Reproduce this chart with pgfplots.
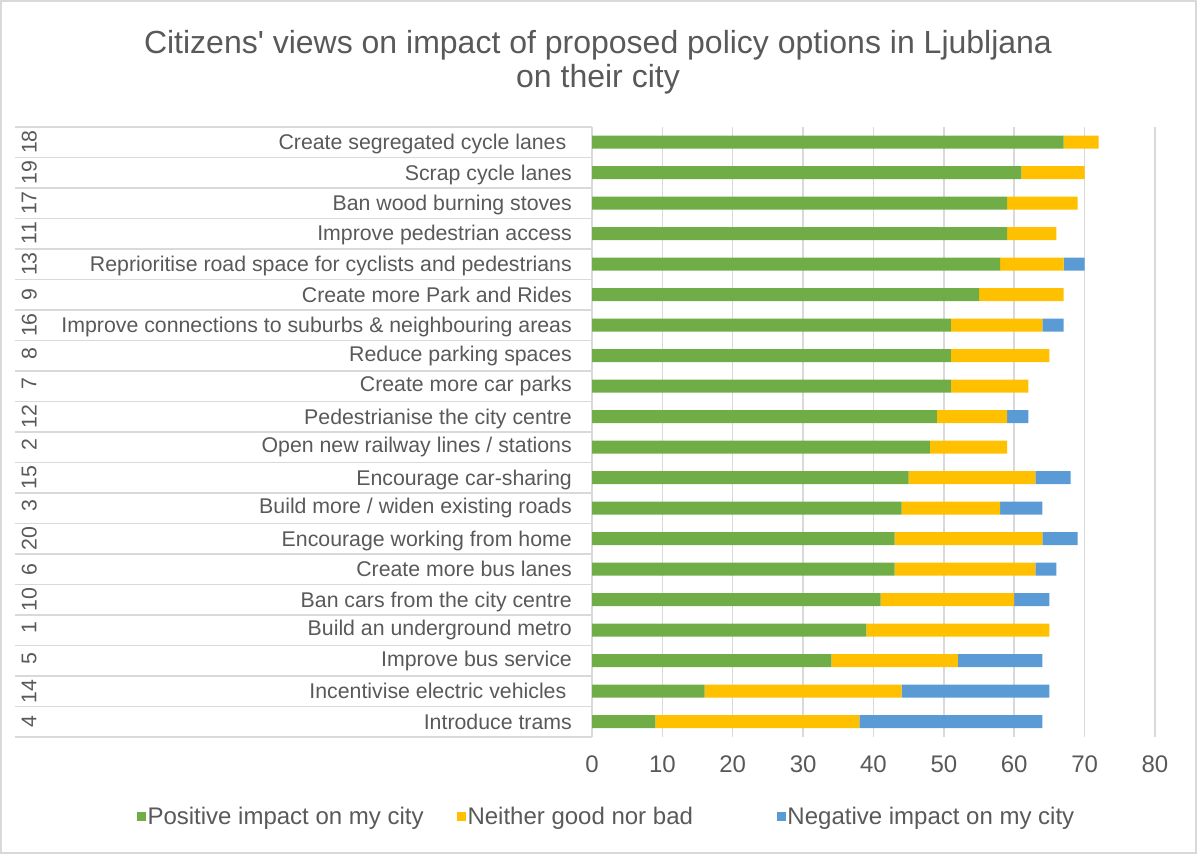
\documentclass[border=0pt]{standalone}
\usepackage{fontspec}
\setmainfont{Liberation Sans}[Ligatures=TeXOff]
\usepackage{graphicx}
\usepackage{pgfplots}
\pgfplotsset{compat=1.18}

\definecolor{posgreen}{HTML}{70AD47}
\definecolor{neutyellow}{HTML}{FFC000}
\definecolor{negblue}{HTML}{5B9BD5}
\definecolor{gridgray}{HTML}{D9D9D9}
\definecolor{txtgray}{HTML}{595959}

% two-level category label: rotated policy number + policy text
\newcommand{\lab}[2]{\makebox[50bp][l]{\raisebox{-0.5\height}{\rotatebox{90}{#1}}}\makebox[500bp][r]{\raisebox{-0.5\height}{#2}}}

\begin{document}
\begin{tikzpicture}
\useasboundingbox (0,0) rectangle (1197bp,854bp);
\draw[gridgray, line width=1.5bp] (1bp,1bp) rectangle (1196bp,853bp);

\node[txtgray, align=center, font=\fontsize{32bp}{34bp}\selectfont]
  at (598bp,792bp) {Citizens' views on impact of proposed policy options in Ljubljana\\on their city};

\begin{axis}[
    scale only axis,
    width=563bp,
    height=610bp,
    at={(592bp,117bp)},
    anchor=south west,
    xbar stacked,
    bar width=13bp,
    xmin=0, xmax=80,
    ymin=-0.5, ymax=19.5,
    xtick={0,10,...,80},
    ytick={0,...,19},
    minor ytick={-0.5,0.5,...,19.5},
    major tick length=0pt,
    minor tick length=577bp,
    tick align=outside,
    ytick pos=left,
    minor tick style={gridgray, line width=1.5bp},
    xmajorgrids=true,
    grid style={gridgray, line width=1.5bp},
    axis line style={draw=none},
    clip=false,
    /pgf/number format/assume math mode=true,
    tick label style={txtgray},
    xticklabel style={font=\fontsize{24bp}{28bp}\selectfont, anchor=north, inner sep=0pt, yshift=-19bp},
    yticklabel style={font=\fontsize{21.3bp}{25bp}\selectfont, anchor=east, inner sep=0pt, xshift=-20bp},
    yticklabels={
        \lab{4}{Introduce trams},
        \lab{14}{Incentivise electric vehicles\hspace{5.5bp}},
        \lab{5}{Improve bus service},
        \lab{1}{Build an underground metro},
        \lab{10}{Ban cars from the city centre},
        \lab{6}{Create more bus lanes},
        \lab{20}{Encourage working from home},
        \lab{3}{Build more / widen existing roads},
        \lab{15}{Encourage car-sharing},
        \lab{2}{Open new railway lines / stations},
        \lab{12}{Pedestrianise the city centre},
        \lab{7}{Create more car parks},
        \lab{8}{Reduce parking spaces},
        \lab{16}{Improve connections to suburbs \& neighbouring areas},
        \lab{9}{Create more Park and Rides},
        \lab{13}{Reprioritise road space for cyclists and pedestrians},
        \lab{11}{Improve pedestrian access},
        \lab{17}{Ban wood burning stoves},
        \lab{19}{Scrap cycle lanes},
        \lab{18}{Create segregated cycle lanes\hspace{5.5bp}}
    },
    legend columns=3,
    legend style={at={(0.024,-0.131)}, anchor=center, draw=none, fill=none,
        font=\fontsize{24bp}{28bp}\selectfont, text=txtgray,
        /tikz/every even column/.append style={column sep=22bp}},
    legend cell align={left},
    legend image code/.code={\fill[#1] (0bp,-4.5bp) rectangle (9bp,4.5bp);},
]
% Positive impact
\addplot[fill=posgreen, draw=none] coordinates {
    (9,0) (16,1) (34,2) (39,3) (41,4) (43,5) (43,6) (44,7) (45,8) (48,9)
    (49,10) (51,11) (51,12) (51,13) (55,14) (58,15) (59,16) (59,17) (61,18) (67,19)
};
% Neither good nor bad
\addplot[fill=neutyellow, draw=none] coordinates {
    (29,0) (28,1) (18,2) (26,3) (19,4) (20,5) (21,6) (14,7) (18,8) (11,9)
    (10,10) (11,11) (14,12) (13,13) (12,14) (9,15) (7,16) (10,17) (9,18) (5,19)
};
% Negative impact
\addplot[fill=negblue, draw=none] coordinates {
    (26,0) (21,1) (12,2) (0,3) (5,4) (3,5) (5,6) (6,7) (5,8) (0,9)
    (3,10) (0,11) (0,12) (3,13) (0,14) (3,15) (0,16) (0,17) (0,18) (0,19)
};
\legend{
    \makebox[285bp][l]{Positive impact on my city},
    \makebox[285bp][l]{Neither good nor bad},
    \makebox[285bp][l]{Negative impact on my city}
}
\end{axis}
\end{tikzpicture}
\end{document}
